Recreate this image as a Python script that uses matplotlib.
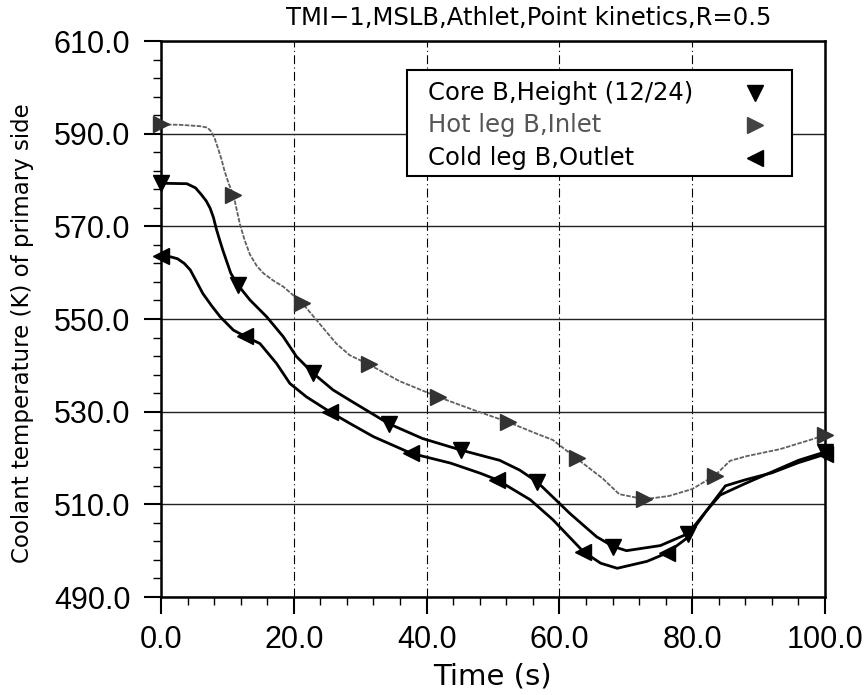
import matplotlib
matplotlib.use("Agg")
import matplotlib.pyplot as plt
from matplotlib.patches import Rectangle
from matplotlib.ticker import FixedLocator, FormatStrFormatter

# values (time in s, temperature in K)
hot_t = [0, 3.0, 6.0, 7.0, 7.6, 8.1, 8.6, 9.1, 9.6, 10.2, 10.9, 11.4, 11.9, 12.6, 13.4,
         14.4, 15.4, 16.9, 18.4, 21.3, 23.4, 26.4, 28.4, 31.3, 35.9, 41.7, 47.0, 52.2,
         57.0, 59.0, 62.6, 66.5, 69.0, 72.8, 76.5, 80.0, 83.4, 85.7, 88.2, 93.2, 98.2,
         100.0]
hot_T = [592.0, 591.9, 591.6, 591.3, 590.4, 588.9, 586.8, 584.5, 581.8, 579.2, 576.8,
         573.6, 570.4, 567.0, 563.9, 561.5, 559.9, 558.3, 557.0, 553.4, 549.8, 544.7,
         542.2, 540.2, 536.6, 533.2, 530.4, 527.8, 525.0, 523.9, 519.9, 515.6, 512.2,
         511.1, 511.8, 513.3, 516.2, 519.4, 520.4, 521.9, 524.1, 525.0]
hot_marks = [0, 10.9, 21.3, 31.3, 41.7, 52.2, 62.6, 72.8, 83.4, 100.0]

core_t = [0, 3.9, 5.2, 6.1, 6.8, 7.4, 7.9, 8.3, 8.8, 9.3, 10.5, 11.6, 13.4, 15.9,
          18.4, 20.4, 22.9, 25.9, 28.4, 34.3, 39.4, 45.2, 51.0, 54.0, 56.6, 61.6,
          65.6, 68.1, 70.1, 75.2, 79.4, 82.2, 84.2, 88.0, 92.0, 96.0, 100.0]
core_T = [579.3, 579.2, 578.3, 576.8, 575.5, 573.9, 571.9, 569.6, 567.2, 564.9, 559.9,
          557.3, 554.1, 550.5, 546.2, 541.9, 538.3, 534.7, 532.5, 527.4, 524.2, 521.7,
          519.5, 517.4, 514.9, 508.0, 503.0, 500.9, 500.0, 501.1, 503.7, 508.7, 512.0,
          514.5, 517.0, 519.5, 521.3]
core_marks = [0, 11.6, 22.9, 34.3, 45.2, 56.6, 68.1, 79.4, 100.0]

cold_t = [0, 1.5, 2.5, 3.5, 4.4, 5.3, 6.3, 7.6, 8.9, 10.9, 12.6, 14.9, 17.4, 19.4,
          21.9, 25.4, 28.4, 32.0, 37.7, 43.6, 48.1, 50.6, 55.6, 59.0, 63.6, 66.2,
          68.7, 73.2, 76.2, 79.2, 82.2, 85.0, 88.0, 92.0, 96.0, 100.0]
cold_T = [563.5, 563.4, 563.0, 562.0, 560.6, 558.2, 555.5, 552.9, 550.5, 547.6, 546.3,
          544.7, 540.4, 536.1, 533.2, 530.0, 527.5, 524.6, 521.0, 518.9, 516.7, 515.3,
          511.0, 506.7, 499.8, 497.3, 496.2, 497.7, 499.5, 502.7, 508.7, 514.0, 515.3,
          516.8, 519.0, 520.8]
cold_marks = [0, 12.6, 25.4, 37.7, 50.6, 63.6, 76.2, 100.0]

x_ticks = [0, 20, 40, 60, 80, 100]
y_ticks = [490, 510, 530, 550, 570, 590, 610]

labels = ["Core B,Height (12/24)", "Hot leg B,Inlet", "Cold leg B,Outlet"]
title = "TMI\u22121,MSLB,Athlet,Point kinetics,R=0.5"

tick_font = "Liberation Sans"
text_font = "DejaVu Sans"

fig = plt.figure(figsize=(8.67, 6.95), dpi=100)
ax = fig.add_axes([0.1857, 0.141, 0.7659, 0.800])

ax.plot(hot_t, hot_T, color="#606060", lw=1.3, ls=(0, (2.5, 0.8)),
        marker=">", ms=11, mfc="#333333", mec="#333333",
        markevery=[hot_t.index(m) for m in hot_marks], clip_on=False, zorder=3)
ax.plot(core_t, core_T, color="black", lw=2.0,
        marker="v", ms=12, mfc="black", mec="black",
        markevery=[core_t.index(m) for m in core_marks], clip_on=False, zorder=4)
ax.plot(cold_t, cold_T, color="black", lw=2.0,
        marker="<", ms=12, mfc="black", mec="black",
        markevery=[cold_t.index(m) for m in cold_marks], clip_on=False, zorder=4)

ax.set_xlim(0, 100)
ax.set_ylim(490, 610)
ax.xaxis.set_major_locator(FixedLocator(x_ticks))
ax.xaxis.set_minor_locator(FixedLocator(range(0, 101, 4)))
ax.yaxis.set_major_locator(FixedLocator(y_ticks))
ax.yaxis.set_minor_locator(FixedLocator(range(490, 611, 4)))
ax.xaxis.set_major_formatter(FormatStrFormatter("%.1f"))
ax.yaxis.set_major_formatter(FormatStrFormatter("%.1f"))
ax.tick_params(which="major", direction="out", length=12, width=1.5, labelsize=22)
ax.tick_params(axis="y", which="major", pad=10)
ax.tick_params(axis="x", which="major", pad=8)
ax.tick_params(which="minor", direction="out", length=6, width=1.0)
for lab in ax.get_xticklabels() + ax.get_yticklabels():
    lab.set_fontfamily(tick_font)

for s in ax.spines.values():
    s.set_linewidth(1.8)

# grid: dash-dot verticals, solid horizontals
ax.grid(axis="x", which="major", color="black", lw=0.8, ls=(0, (8, 3, 1, 3)))
ax.grid(axis="y", which="major", color="#222222", lw=1.0, ls="-")

# legend box drawn by hand so text is left-aligned and markers right-aligned
ax.add_patch(Rectangle((0.3705, 0.757), 0.5795, 0.191, transform=ax.transAxes,
                       facecolor="white", edgecolor="black", lw=1.5, zorder=5))
rows = [0.906, 0.849, 0.790]
marks = ["v", ">", "<"]
colors = ["black", "#555555", "black"]
mcolors = ["black", "#444444", "black"]
for lab, y, m, c, mc in zip(labels, rows, marks, colors, mcolors):
    ax.text(0.402, y, lab, transform=ax.transAxes, fontsize=17.5, family=text_font,
            color=c, va="center", ha="left", zorder=6)
    ax.plot([0.8946], [y], marker=m, ms=12, color=mc, ls="none",
            transform=ax.transAxes, clip_on=False, zorder=6)

fig.text(0.61, 0.974, title, fontsize=17.5, family=text_font, ha="center", va="center")
fig.text(0.5675, 0.026, "Time (s)", fontsize=21, family=text_font, ha="center", va="center")
fig.text(0.026, 0.52, "Coolant temperature (K) of primary side", fontsize=16.5,
         family=text_font, ha="center", va="center", rotation=90)

fig.savefig("out.png", dpi=100)
